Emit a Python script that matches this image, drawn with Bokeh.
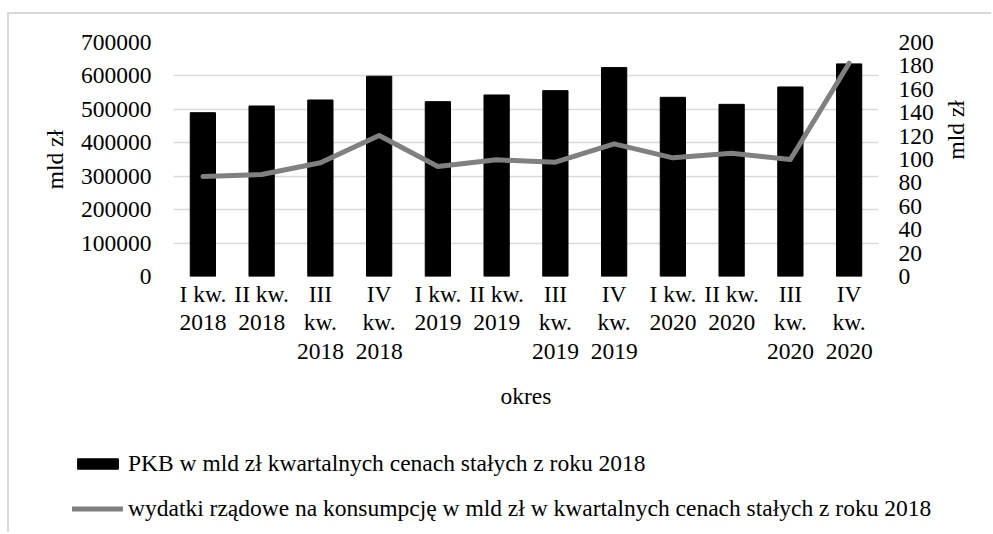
import math
from bokeh.plotting import figure
from bokeh.models import (Range1d, LinearAxis, FixedTicker, Legend, LegendItem,
                          BasicTickFormatter, FactorRange, ColumnDataSource)
from bokeh.embed import file_html
from bokeh.resources import INLINE

tick_labels = ["I kw.\n2018", "II kw.\n2018", "III\nkw.\n2018", "IV\nkw.\n2018",
               "I kw.\n2019", "II kw.\n2019", "III\nkw.\n2019", "IV\nkw.\n2019",
               "I kw.\n2020", "II kw.\n2020", "III\nkw.\n2020", "IV\nkw.\n2020"]
pkb = [490000, 510000, 528000, 599000, 523000, 543000,
       556000, 625000, 536000, 515000, 567000, 636000]
wydatki = [85.5, 87.2, 97.2, 120.5, 94.0, 99.7,
           97.7, 113.4, 101.4, 105.4, 100.0, 182.3]
left_ticks = [0, 100000, 200000, 300000, 400000, 500000, 600000, 700000]
right_ticks = [0, 20, 40, 60, 80, 100, 120, 140, 160, 180, 200]
series_names = ["PKB w mld zł kwartalnych cenach stałych z roku 2018",
                "wydatki rządowe na konsumpcję w mld zł w kwartalnych cenach stałych z roku 2018"]

FONT = "Liberation Serif"
FS = "23.5px"
BAR_COLOR = "black"
LINE_COLOR = "#808080"
BORDER = "2px solid #d9d9d9"

p = figure(x_range=FactorRange(*tick_labels, range_padding=0),
           y_range=Range1d(0, 700000),
           width=984, height=416,
           min_border_left=164, min_border_right=115,
           min_border_top=28, min_border_bottom=154,
           output_backend="svg", toolbar_location=None)
p.styles = {"margin-top": "12px", "margin-left": "7px",
            "border-top": BORDER, "border-left": BORDER}
p.outline_line_color = None
p.background_fill_color = "white"
p.border_fill_color = "white"

p.extra_y_ranges = {"y2": Range1d(0, 200)}

bars = p.vbar(x=tick_labels, top=pkb, width=0.43, color=BAR_COLOR)
line = p.line(x=tick_labels, y=wydatki, y_range_name="y2", line_color=LINE_COLOR,
              line_width=5, line_join="round", line_cap="round")

p.xgrid.grid_line_color = None
p.ygrid.grid_line_color = "#d9d9d9"
p.ygrid.grid_line_width = 1.5
p.ygrid.ticker = FixedTicker(ticks=left_ticks)

ya = p.yaxis[0]
ya.ticker = FixedTicker(ticks=left_ticks)
ya.formatter = BasicTickFormatter(use_scientific=False)
ya.axis_label = "mld zł"

ra = LinearAxis(y_range_name="y2", ticker=FixedTicker(ticks=right_ticks),
                axis_label="mld zł")
p.add_layout(ra, "right")

xa = p.xaxis[0]
xa.axis_label = "okres"

for ax in [ya, ra, xa]:
    ax.axis_line_color = None
    ax.major_tick_line_color = None
    ax.minor_tick_line_color = None
    ax.major_tick_out = 0
    ax.major_tick_in = 0
    ax.minor_tick_out = 0
    ax.minor_tick_in = 0
    ax.major_label_text_font = FONT
    ax.major_label_text_font_size = FS
    ax.major_label_text_color = "black"
    ax.axis_label_text_font = FONT
    ax.axis_label_text_font_size = FS
    ax.axis_label_text_font_style = "normal"
    ax.axis_label_text_color = "black"

ya.major_label_standoff = 22
ya.axis_label_standoff = 10
ra.major_label_standoff = 20
ra.axis_label_standoff = 19
ra.axis_label_orientation = math.pi / 2
xa.major_label_standoff = 4
xa.major_label_text_line_height = 1.1
xa.axis_label_standoff = 16

# legend panel: a separate root figure below the chart, holding its legend
lp = figure(width=984, height=104, x_range=Range1d(0, 1), y_range=Range1d(0, 1),
            x_axis_type=None, y_axis_type=None,
            min_border_left=63, min_border_top=22, min_border_right=0, min_border_bottom=0,
            output_backend="svg", toolbar_location=None)
lp.styles = {"margin-left": "7px", "border-left": BORDER}
lp.outline_line_color = None
lp.grid.grid_line_color = None
lp.background_fill_color = None
lp.border_fill_color = None
# legend-key renderers: styled like the chart's series, data kept off-frame
off = ColumnDataSource(data=dict(x=[-5, -4], y=[-5, -5]))
lbar = lp.vbar(x="x", top="y", width=0.43, color=BAR_COLOR, source=off)
lline = lp.line(x="x", y="y", line_color=LINE_COLOR, line_width=5,
                line_cap="round", source=off)

legend = Legend(items=[
    LegendItem(label=series_names[0], renderers=[lbar]),
    LegendItem(label=series_names[1], renderers=[lline]),
], location="top_left", orientation="vertical")
legend.border_line_color = None
legend.background_fill_alpha = 0
legend.padding = 0
legend.margin = 0
legend.glyph_width = 51
legend.glyph_height = 13
legend.label_standoff = 5
legend.spacing = 18
legend.label_text_font = FONT
legend.label_text_font_size = FS
legend.label_text_color = "black"
lp.add_layout(legend, "center")

open("out.html", "w").write(file_html([p, lp], INLINE))
